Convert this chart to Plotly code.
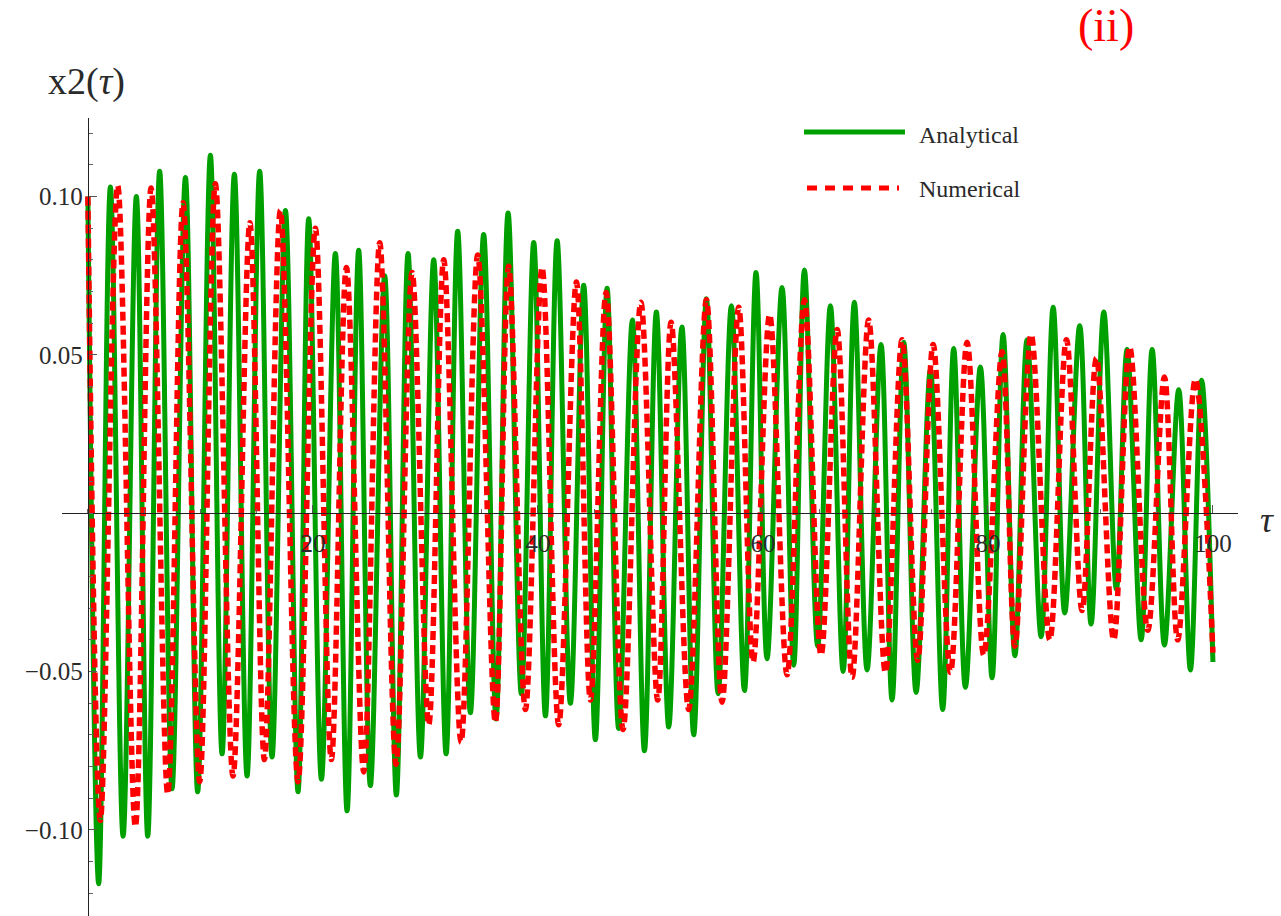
import plotly.graph_objects as go

# Extrema of x2(tau) for both solutions (tau, value), listed in order
tau_analytical = [0, 0.96, 2.0, 3.13, 4.31, 5.32, 6.38, 7.48, 8.67, 9.76,
                  10.89, 11.93, 13.02, 14.15, 15.27, 16.37, 17.56, 18.68, 19.63, 20.76,
                  22.0, 23.04, 24.07, 25.11, 26.38, 27.42, 28.46, 29.56, 30.74, 31.84,
                  32.87, 34.0, 35.18, 36.28, 37.35, 38.53, 39.63, 40.67, 41.71, 42.89,
                  44.07, 45.11, 46.15, 47.18, 48.4, 49.47, 50.53, 51.63, 52.8, 53.85,
                  54.98, 56.02, 57.2, 58.36, 59.39, 60.37, 61.7, 62.74, 63.69, 64.87,
                  66.0, 67.13, 68.13, 69.26, 70.5, 71.48, 72.52, 73.62, 74.89, 75.98,
                  76.96, 78.0, 79.33, 80.37, 81.35, 82.4, 83.48, 84.73, 85.8, 86.83,
                  88.16, 89.17, 90.3, 91.42, 92.37, 93.62, 94.6, 95.69, 96.96, 98.0,
                  99.0, 100.0]
x2_analytical = [0.100, -0.117, 0.103, -0.102, 0.100, -0.102, 0.108, -0.087, 0.106, -0.088,
                 0.113, -0.076, 0.107, -0.083, 0.108, -0.077, 0.0956, -0.088, 0.093, -0.084,
                 0.082, -0.094, 0.083, -0.086, 0.075, -0.089, 0.082, -0.077, 0.080, -0.076,
                 0.089, -0.063, 0.088, -0.065, 0.0948, -0.057, 0.0855, -0.064, 0.086, -0.060,
                 0.072, -0.0715, 0.071, -0.068, 0.061, -0.075, 0.0635, -0.0675, 0.0588, -0.070,
                 0.0677, -0.057, 0.0655, -0.056, 0.076, -0.046, 0.0713, -0.048, 0.0768, -0.042,
                 0.0655, -0.050, 0.0666, -0.0495, 0.0533, -0.059, 0.054, -0.0566, 0.0454, -0.062,
                 0.052, -0.055, 0.0462, -0.052, 0.0564, -0.045, 0.0548, -0.039, 0.065, -0.0315,
                 0.0592, -0.035, 0.0635, -0.024, 0.0517, -0.040, 0.0517, -0.0416, 0.039, -0.0495,
                 0.042, -0.047]

tau_numerical = [0, 1.11, 2.65, 4.22, 5.62, 7.1, 8.46, 9.94, 11.33, 12.9,
                 14.4, 15.69, 17.11, 18.68, 20.22, 21.64, 22.98, 24.52, 25.94, 27.39,
                 28.82, 30.3, 31.63, 33.17, 34.65, 36.22, 37.4, 38.89, 40.37, 41.85,
                 43.42, 44.67, 46.06, 47.57, 49.15, 50.65, 51.84, 53.4, 54.98, 56.37,
                 57.85, 59.13, 60.6, 62.15, 63.69, 65.17, 66.6, 67.93, 69.4, 70.89,
                 72.37, 73.76, 75.13, 76.67, 78.15, 79.63, 81.26, 82.4, 83.84, 85.5,
                 86.98, 88.37, 89.64, 91.18, 92.6, 94.21, 95.69, 96.87, 98.44, 100.0]
x2_numerical = [0.100, -0.097, 0.1035, -0.099, 0.1027, -0.0887, 0.098, -0.0848, 0.104, -0.083,
                0.0917, -0.0778, 0.0956, -0.0848, 0.090, -0.0778, 0.0776, -0.0817, 0.0854, -0.0793,
                0.076, -0.0668, 0.080, -0.0723, 0.0815, -0.066, 0.078, -0.062, 0.0776, -0.0668,
                0.073, -0.059, 0.0697, -0.0683, 0.0666, -0.059, 0.0603, -0.062, 0.0674, -0.0597,
                0.065, -0.047, 0.0627, -0.051, 0.0674, -0.0448, 0.058, -0.0518, 0.061, -0.0503,
                0.0548, -0.0464, 0.0533, -0.0503, 0.054, -0.0448, 0.051, -0.042, 0.0564, -0.040,
                0.0548, -0.0307, 0.049, -0.040, 0.0525, -0.037, 0.043, -0.040, 0.0423, -0.044]

x_tickvals = [20, 40, 60, 80, 100]
x_ticktext = ["20", "40", "60", "80", "100"]
y_tickvals = [-0.10, -0.05, 0.05, 0.10]
y_ticktext = ["\u22120.10", "\u22120.05", "0.05", "0.10"]

GREEN = "#00a000"
RED = "#ff0000"
SERIF = "Liberation Serif, Times New Roman, serif"
INK = "#2a2a2a"

W, H = 1281, 916
M_L, M_R, M_T, M_B = 62, 43, 118, 0
X_RANGE = [-2.3, 102.23]
Y_RANGE = [-0.1272, 0.1248]


def px_x(px):
    return (px - M_L) / (W - M_L - M_R)


def px_y(py):
    return (H - M_B - py) / (H - M_T - M_B)


fig = go.Figure()
fig.add_trace(go.Scatter(
    x=tau_analytical, y=x2_analytical, mode="lines", name="Analytical",
    line=dict(color=GREEN, width=5, shape="spline", smoothing=1.0, simplify=False),
    showlegend=False, hoverinfo="skip"))
fig.add_trace(go.Scatter(
    x=tau_numerical, y=x2_numerical, mode="lines", name="Numerical",
    line=dict(color=RED, width=5.5, dash="9px,5px", shape="spline", smoothing=1.0,
              simplify=False),
    showlegend=False, hoverinfo="skip"))

# axes cross at the origin
x_axis_pos = (0 - Y_RANGE[0]) / (Y_RANGE[1] - Y_RANGE[0])
y_axis_pos = (0 - X_RANGE[0]) / (X_RANGE[1] - X_RANGE[0])

fig.update_layout(
    width=W, height=H,
    margin=dict(l=M_L, r=M_R, t=M_T, b=M_B),
    paper_bgcolor="white", plot_bgcolor="white",
    font=dict(family=SERIF, color=INK),
    xaxis=dict(
        range=X_RANGE, anchor="free", position=x_axis_pos,
        showgrid=False, zeroline=False,
        showline=True, linecolor="#222", linewidth=1.3,
        tickvals=x_tickvals, ticktext=x_ticktext,
        ticks="inside", ticklen=8, tickwidth=1.2, tickcolor="#555",
        tickfont=dict(family=SERIF, size=25, color=INK),
        ticklabelstandoff=8,
        minor=dict(tick0=0, dtick=5, ticks="inside", ticklen=4, tickwidth=1,
                   tickcolor="#666", showgrid=False),
    ),
    yaxis=dict(
        range=Y_RANGE, anchor="free", position=y_axis_pos,
        showgrid=False, zeroline=False,
        showline=True, linecolor="#222", linewidth=1.3,
        tickvals=y_tickvals, ticktext=y_ticktext,
        ticks="inside", ticklen=8, tickwidth=1.2, tickcolor="#555",
        tickfont=dict(family=SERIF, size=25, color=INK),
        minor=dict(tick0=0, dtick=0.01, ticks="inside", ticklen=4, tickwidth=1,
                   tickcolor="#666", showgrid=False),
    ),
)

# legend drawn as line samples with labels
fig.add_shape(type="line", xref="paper", yref="paper",
              x0=px_x(804), x1=px_x(905), y0=px_y(132), y1=px_y(132),
              line=dict(color=GREEN, width=5))
fig.add_shape(type="line", xref="paper", yref="paper",
              x0=px_x(807), x1=px_x(899), y0=px_y(188), y1=px_y(188),
              line=dict(color=RED, width=5, dash="10px,8px"))
fig.add_annotation(xref="paper", yref="paper", x=px_x(917), y=px_y(135),
                   text="Analytical", showarrow=False, xanchor="left", yanchor="middle",
                   font=dict(family=SERIF, size=24, color=INK))
fig.add_annotation(xref="paper", yref="paper", x=px_x(917), y=px_y(189),
                   text="Numerical", showarrow=False, xanchor="left", yanchor="middle",
                   font=dict(family=SERIF, size=24, color=INK))

# axis labels and panel tag
fig.add_annotation(xref="paper", yref="paper", x=px_x(86), y=px_y(82),
                   text="x2(<i>\u03c4</i>)", showarrow=False, xanchor="center",
                   yanchor="middle", font=dict(family=SERIF, size=38, color=INK))
fig.add_annotation(xref="paper", yref="paper", x=px_x(1267), y=px_y(520),
                   text="<i>\u03c4</i>", showarrow=False, xanchor="center",
                   yanchor="middle", font=dict(family=SERIF, size=36, color=INK))
fig.add_annotation(xref="paper", yref="paper", x=px_x(1106), y=px_y(26),
                   text="(ii)", showarrow=False, xanchor="center", yanchor="middle",
                   font=dict(family=SERIF, size=46, color=RED))

fig.write_html("out.html")
